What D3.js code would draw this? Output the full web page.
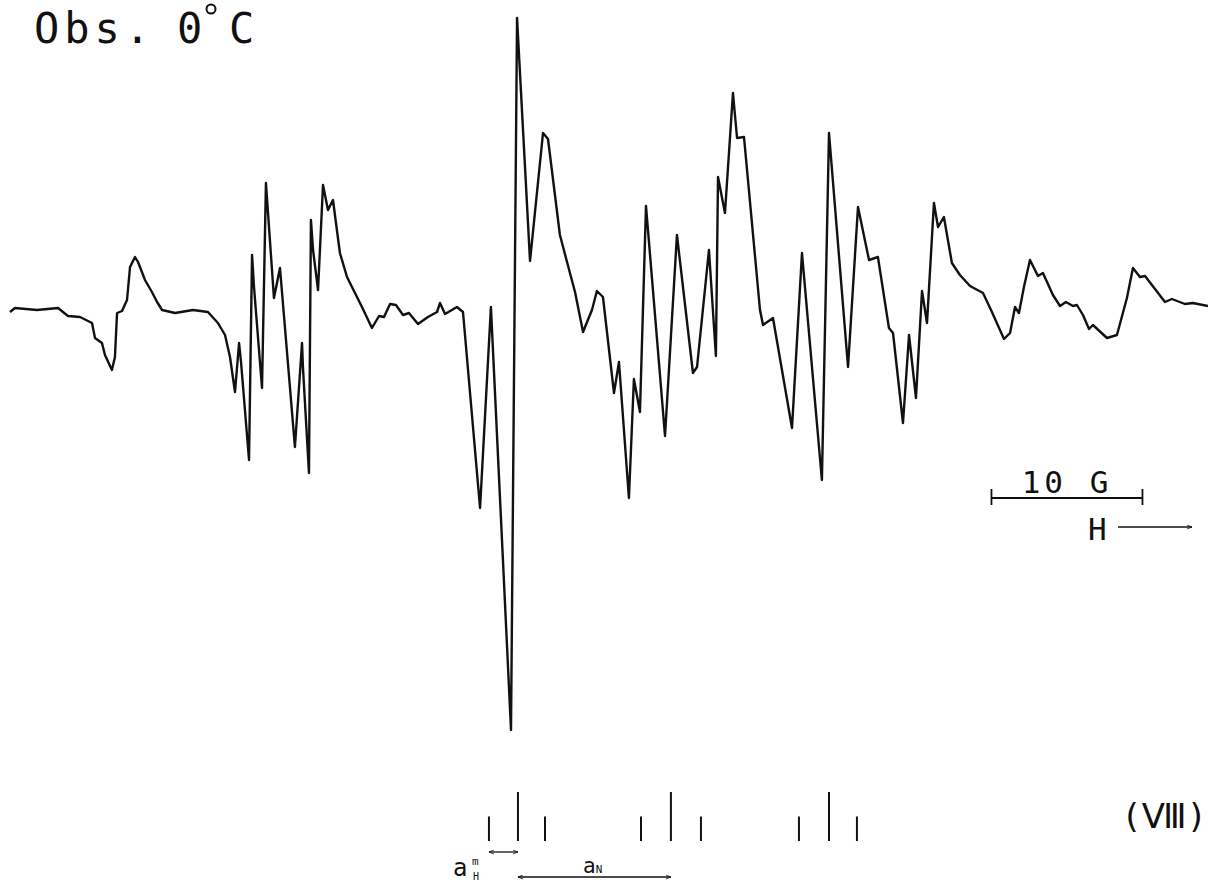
<!DOCTYPE html>
<html>
<head>
<meta charset="utf-8">
<script src="https://cdn.jsdelivr.net/npm/d3@7"></script>
<style>
  body{margin:0;background:#fff;}
  svg{display:block;}
  text{font-family:"DejaVu Sans Mono","DejaVu Sans",sans-serif;fill:#111;}
</style>
</head>
<body>
<div id="chart"></div>
<script>
// field offset from left end of sweep, gauss
var fieldG = [0.00,0.33,1.79,3.18,3.84,4.64,5.43,5.63,6.09,6.29,6.75,6.95,7.09,7.42,7.75,7.95,8.28,8.48,8.94,9.40,
  9.74,10.07,10.93,12.12,13.11,13.77,14.24,14.57,14.90,15.17,15.30,15.83,16.03,16.16,16.69,16.95,17.48,17.88,18.87,19.34,
  19.40,19.80,19.93,20.07,20.40,20.73,21.06,21.39,21.85,22.32,23.31,23.97,24.44,24.77,25.17,25.56,26.03,26.42,27.02,27.68,
  28.28,28.48,28.81,29.60,30.00,31.13,31.85,33.18,33.58,34.44,35.30,35.63,36.42,36.89,37.42,37.95,38.54,38.87,39.27,40.00,
  40.33,40.99,41.32,41.72,42.12,43.38,44.17,45.23,45.50,46.29,46.75,46.89,47.35,47.88,48.15,48.61,49.67,49.87,50.53,51.79,
  52.45,53.77,54.24,55.50,56.16,56.89,57.48,58.21,58.48,59.14,59.54,60.00,60.40,60.73,61.19,61.46,61.85,62.38,62.91,63.58,
  64.44,65.03,65.83,66.23,66.56,66.82,67.15,67.55,68.08,68.41,69.07,69.54,69.93,70.40,70.66,71.06,71.46,71.72,72.65,73.31,
  73.97,74.37,74.83,75.17,76.49,76.95,77.81,78.34,79.34];

// first-derivative signal, arbitrary units
var signal = [-0.2,0.2,0.0,0.2,-0.6,-0.7,-1.3,-2.8,-3.3,-4.5,-6.0,-4.7,-0.3,-0.1,1.0,4.3,5.3,4.8,3.0,1.8,
  0.8,0.0,-0.3,0.0,-0.2,-1.3,-2.5,-4.7,-8.2,-3.3,-5.2,-15.0,5.5,2.3,-7.8,12.7,1.2,4.2,-13.7,-3.3,
  -5.7,-16.3,9.0,6.0,2.0,12.5,10.0,11.0,5.7,3.3,0.3,-1.8,-0.6,-0.7,0.6,0.5,-0.5,-0.3,-1.4,-0.7,
  -0.2,0.7,-0.4,0.3,-0.2,-19.8,0.3,-42.0,29.2,4.9,17.7,17.1,7.5,4.8,1.8,-2.2,0.0,1.9,1.3,-8.3,
  -5.2,-18.8,-6.9,-10.2,10.4,-12.6,7.5,-6.3,-5.7,6.0,-4.6,13.3,9.7,21.7,17.2,17.3,0.0,-1.5,-0.8,-11.8,
  5.7,-17.0,17.7,-5.7,10.3,5.0,5.3,-1.8,-2.3,-11.3,-2.5,-8.8,1.9,-1.3,10.7,8.3,9.3,4.7,3.5,2.4,
  1.7,-0.2,-2.9,-2.3,0.3,-0.3,2.3,5.0,3.4,3.7,1.5,0.4,0.8,0.4,0.5,-0.5,-1.9,-1.5,-2.8,-2.5,
  1.2,4.2,3.3,3.4,0.8,1.1,0.6,0.7,0.4];

// stick reconstruction: 1:2:1 triplets
var stickField = [31.72,33.64,35.43,41.79,43.77,45.76,52.25,54.24,56.09];
var stickIntensity = [1,2,1,1,2,1,1,2,1];

var scaleBarStart = 65, scaleBarLength = 10;   // gauss
var titleText = "Obs.", tempText = "0", compoundLabel = "(\u2167)";

function EsrChart(options) {

    var width = options.width || 1208,
        height = options.height || 884;

    var svg = d3.select(options.ele || "body").append("svg")
        .attr("width", width)
        .attr("height", height);

    var x = d3.scaleLinear()
        .domain([0, 79.34])
        .range([10, 1208]);

    var y = d3.scaleLinear()
        .domain([-42, 29.2])
        .range([730, 18]);

    var ys = d3.scaleLinear()
        .domain([0, 2])
        .range([841, 792]);

    var defs = svg.append("defs");
    defs.append("marker")
        .attr("id", "head")
        .attr("viewBox", "0 0 10 10")
        .attr("refX", 10).attr("refY", 5)
        .attr("markerWidth", 7).attr("markerHeight", 5)
        .attr("orient", "auto-start-reverse")
        .attr("markerUnits", "userSpaceOnUse")
        .append("path")
        .attr("d", "M0,1L10,5L0,9")
        .attr("fill", "none")
        .attr("stroke", "#111")
        .attr("stroke-width", 1.6);

    // spectrum trace
    var pts = fieldG.map(function(d, i) { return [d, signal[i]]; });
    var line = d3.line()
        .x(function(d) { return x(d[0]); })
        .y(function(d) { return y(d[1]); });

    svg.append("path")
        .datum(pts)
        .attr("d", line)
        .attr("fill", "none")
        .attr("stroke", "#111")
        .attr("stroke-width", 2.4)
        .attr("stroke-linejoin", "round");

    // title
    svg.append("text").attr("x", 34).attr("y", 43)
        .attr("font-size", 42).attr("letter-spacing", 5)
        .text(titleText);
    svg.append("text").attr("x", 177).attr("y", 43)
        .attr("font-size", 42).text(tempText);
    svg.append("circle").attr("cx", 211).attr("cy", 9).attr("r", 4.5)
        .attr("fill", "none").attr("stroke", "#111").attr("stroke-width", 2);
    svg.append("text").attr("x", 229).attr("y", 43)
        .attr("font-size", 42).text("C");

    // scale bar
    var sb = svg.append("g").attr("stroke", "#111").attr("stroke-width", 1.8);
    sb.append("line")
        .attr("x1", x(scaleBarStart)).attr("x2", x(scaleBarStart + scaleBarLength))
        .attr("y1", 498).attr("y2", 498);
    [scaleBarStart, scaleBarStart + scaleBarLength].forEach(function(v) {
        sb.append("line").attr("x1", x(v)).attr("x2", x(v))
            .attr("y1", 489).attr("y2", 505);
    });
    svg.append("text")
        .attr("x", (x(scaleBarStart) + x(scaleBarStart + scaleBarLength)) / 2)
        .attr("y", 493).attr("text-anchor", "middle")
        .attr("font-size", 31).attr("letter-spacing", 4)
        .text(scaleBarLength + " G");
    svg.append("text").attr("x", 1088).attr("y", 540)
        .attr("font-size", 31).text("H");
    svg.append("line")
        .attr("x1", 1118).attr("x2", 1192).attr("y1", 527).attr("y2", 527)
        .attr("stroke", "#111").attr("stroke-width", 1.6)
        .attr("marker-end", "url(#head)");

    // stick diagram
    svg.selectAll(".stick")
        .data(stickField)
        .enter().append("line")
        .attr("class", "stick")
        .attr("x1", function(d) { return x(d); })
        .attr("x2", function(d) { return x(d); })
        .attr("y1", ys(0))
        .attr("y2", function(d, i) { return ys(stickIntensity[i]); })
        .attr("stroke", "#111")
        .attr("stroke-width", 2);

    // coupling arrows
    svg.append("line")
        .attr("x1", x(stickField[0])).attr("x2", x(stickField[1]))
        .attr("y1", 852).attr("y2", 852)
        .attr("stroke", "#111").attr("stroke-width", 1.3)
        .attr("marker-start", "url(#head)").attr("marker-end", "url(#head)");
    svg.append("line")
        .attr("x1", x(stickField[1])).attr("x2", x(stickField[4]))
        .attr("y1", 877).attr("y2", 877)
        .attr("stroke", "#111").attr("stroke-width", 1.3)
        .attr("marker-start", "url(#head)").attr("marker-end", "url(#head)");

    svg.append("text").attr("x", 453).attr("y", 876)
        .attr("font-family", "DejaVu Sans").attr("font-size", 24).text("a");
    svg.append("text").attr("x", 472).attr("y", 865)
        .attr("font-family", "DejaVu Sans").attr("font-size", 11).text("m");
    svg.append("text").attr("x", 473).attr("y", 880)
        .attr("font-family", "DejaVu Sans").attr("font-size", 10).text("H");

    var aN = svg.append("text").attr("x", 583).attr("y", 873)
        .attr("font-family", "DejaVu Sans").attr("font-size", 21);
    aN.append("tspan").text("a");
    aN.append("tspan").attr("font-size", 11).text("N");

    svg.append("text").attr("x", 1207).attr("y", 828)
        .attr("text-anchor", "end")
        .attr("font-family", "DejaVu Sans").attr("font-size", 34)
        .text(compoundLabel);

    return svg;
}

EsrChart({ele: "#chart", width: 1208, height: 884});
</script>
</body>
</html>
